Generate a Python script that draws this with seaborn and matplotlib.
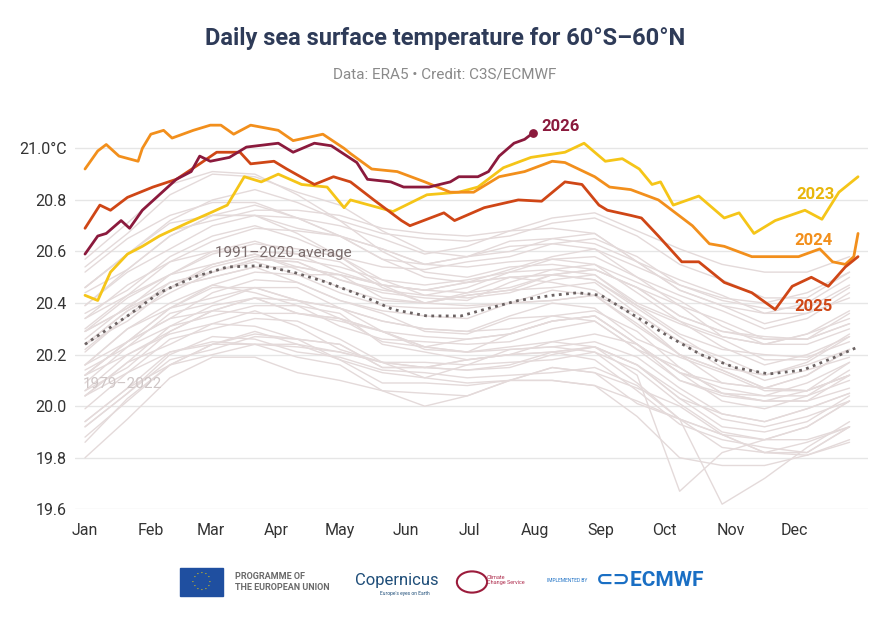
import matplotlib
matplotlib.use("Agg")
import matplotlib.pyplot as plt
import matplotlib.patches as mpatches
import numpy as np
import pandas as pd
import seaborn as sns

# ---- data ----
month_days = [0, 31, 59, 90, 120, 151, 181, 212, 243, 273, 304, 334]
month_names = ["Jan", "Feb", "Mar", "Apr", "May", "Jun",
               "Jul", "Aug", "Sep", "Oct", "Nov", "Dec"]

bg_days = [0, 20, 40, 60, 80, 100, 120, 140, 160, 180,
           200, 220, 240, 260, 280, 300, 320, 340, 360]
bg_years = list(range(1979, 2023))
bg_sst = [
    [19.94, 20.07, 20.21, 20.25, 20.24, 20.23, 20.21, 20.17, 20.11, 20.16, 20.22, 20.23, 20.21, 20.09, 19.95, 19.89, 19.87, 19.87, 19.92],
    [20.04, 20.17, 20.24, 20.32, 20.37, 20.31, 20.22, 20.17, 20.17, 20.16, 20.17, 20.18, 20.21, 20.14, 20.01, 19.90, 19.87, 19.92, 20.02],
    [19.92, 20.05, 20.20, 20.27, 20.26, 20.21, 20.19, 20.14, 20.13, 20.11, 20.12, 20.13, 20.15, 20.08, 19.95, 19.62, 19.72, 19.84, 19.94],
    [19.86, 20.03, 20.16, 20.24, 20.28, 20.26, 20.24, 20.15, 20.15, 20.18, 20.20, 20.25, 20.28, 20.24, 20.10, 20.05, 20.04, 20.09, 20.17],
    [20.16, 20.30, 20.40, 20.47, 20.44, 20.39, 20.36, 20.24, 20.21, 20.18, 20.20, 20.21, 20.18, 20.06, 19.93, 19.87, 19.84, 19.82, 19.92],
    [19.94, 20.07, 20.16, 20.20, 20.24, 20.24, 20.18, 20.09, 20.09, 20.08, 20.10, 20.10, 20.08, 19.96, 19.80, 19.77, 19.77, 19.81, 19.87],
    [19.80, 19.95, 20.11, 20.19, 20.19, 20.13, 20.10, 20.06, 20.05, 20.04, 20.10, 20.15, 20.13, 20.01, 19.95, 19.89, 19.82, 19.81, 19.86],
    [19.88, 20.02, 20.16, 20.24, 20.29, 20.24, 20.21, 20.17, 20.15, 20.14, 20.16, 20.21, 20.23, 20.16, 20.03, 19.97, 19.94, 19.99, 20.05],
    [20.09, 20.23, 20.36, 20.40, 20.46, 20.41, 20.38, 20.33, 20.30, 20.29, 20.30, 20.35, 20.37, 20.29, 20.15, 20.05, 20.02, 20.06, 20.12],
    [20.12, 20.20, 20.28, 20.32, 20.31, 20.26, 20.18, 20.13, 20.11, 20.09, 20.10, 20.15, 20.13, 20.07, 20.00, 19.89, 19.82, 19.82, 19.92],
    [19.92, 20.05, 20.18, 20.22, 20.27, 20.26, 20.24, 20.15, 20.15, 20.14, 20.15, 20.20, 20.23, 20.12, 19.67, 19.82, 19.87, 19.92, 20.02],
    [20.04, 20.17, 20.31, 20.35, 20.39, 20.39, 20.31, 20.26, 20.25, 20.24, 20.25, 20.30, 20.33, 20.22, 20.10, 20.04, 20.02, 20.02, 20.07],
    [20.12, 20.25, 20.34, 20.37, 20.42, 20.41, 20.38, 20.29, 20.23, 20.21, 20.23, 20.25, 20.23, 20.16, 20.03, 19.92, 19.90, 19.94, 20.04],
    [20.04, 20.13, 20.21, 20.24, 20.24, 20.19, 20.16, 20.06, 20.00, 20.04, 20.10, 20.10, 20.08, 20.02, 19.95, 19.84, 19.82, 19.86, 19.92],
    [19.99, 20.13, 20.26, 20.30, 20.34, 20.33, 20.26, 20.17, 20.15, 20.18, 20.20, 20.21, 20.23, 20.16, 20.05, 19.95, 19.92, 19.96, 20.02],
    [20.06, 20.20, 20.29, 20.37, 20.42, 20.36, 20.33, 20.29, 20.23, 20.21, 20.28, 20.33, 20.35, 20.24, 20.13, 20.09, 20.07, 20.06, 20.12],
    [20.16, 20.25, 20.38, 20.46, 20.46, 20.41, 20.34, 20.29, 20.22, 20.21, 20.22, 20.23, 20.25, 20.19, 20.07, 19.97, 19.94, 19.99, 20.05],
    [20.06, 20.15, 20.29, 20.37, 20.36, 20.36, 20.34, 20.25, 20.23, 20.26, 20.28, 20.33, 20.35, 20.24, 20.13, 20.07, 20.04, 20.04, 20.14],
    [20.16, 20.30, 20.38, 20.47, 20.52, 20.51, 20.51, 20.47, 20.45, 20.48, 20.53, 20.58, 20.61, 20.54, 20.47, 20.42, 20.40, 20.44, 20.52],
    [20.52, 20.65, 20.74, 20.79, 20.79, 20.73, 20.66, 20.57, 20.50, 20.48, 20.50, 20.48, 20.45, 20.34, 20.20, 20.09, 20.07, 20.06, 20.12],
    [20.14, 20.23, 20.31, 20.39, 20.42, 20.36, 20.34, 20.29, 20.27, 20.26, 20.28, 20.33, 20.35, 20.24, 20.13, 20.02, 19.99, 20.04, 20.10],
    [20.12, 20.25, 20.38, 20.42, 20.46, 20.46, 20.38, 20.33, 20.30, 20.29, 20.35, 20.40, 20.38, 20.26, 20.19, 20.13, 20.06, 20.06, 20.17],
    [20.21, 20.35, 20.44, 20.52, 20.56, 20.51, 20.44, 20.39, 20.38, 20.38, 20.40, 20.41, 20.43, 20.36, 20.25, 20.15, 20.12, 20.16, 20.22],
    [20.24, 20.37, 20.46, 20.55, 20.59, 20.54, 20.51, 20.47, 20.45, 20.44, 20.46, 20.51, 20.53, 20.46, 20.35, 20.29, 20.27, 20.26, 20.32],
    [20.34, 20.43, 20.51, 20.55, 20.59, 20.53, 20.46, 20.41, 20.40, 20.43, 20.45, 20.51, 20.49, 20.39, 20.28, 20.22, 20.20, 20.19, 20.25],
    [20.26, 20.39, 20.48, 20.52, 20.57, 20.56, 20.49, 20.45, 20.43, 20.42, 20.44, 20.49, 20.51, 20.39, 20.32, 20.26, 20.18, 20.18, 20.28],
    [20.30, 20.43, 20.56, 20.60, 20.60, 20.59, 20.56, 20.46, 20.40, 20.44, 20.50, 20.51, 20.49, 20.38, 20.27, 20.17, 20.10, 20.14, 20.19],
    [20.22, 20.35, 20.48, 20.52, 20.57, 20.56, 20.49, 20.44, 20.42, 20.41, 20.48, 20.53, 20.55, 20.44, 20.33, 20.27, 20.24, 20.24, 20.30],
    [20.29, 20.38, 20.46, 20.50, 20.54, 20.48, 20.41, 20.36, 20.29, 20.28, 20.34, 20.35, 20.33, 20.22, 20.15, 20.05, 20.02, 20.02, 20.12],
    [20.12, 20.25, 20.34, 20.44, 20.49, 20.48, 20.41, 20.37, 20.35, 20.34, 20.40, 20.45, 20.43, 20.32, 20.20, 20.14, 20.07, 20.12, 20.22],
    [20.24, 20.33, 20.46, 20.54, 20.58, 20.57, 20.54, 20.49, 20.47, 20.49, 20.52, 20.57, 20.58, 20.50, 20.43, 20.37, 20.30, 20.34, 20.44],
    [20.46, 20.59, 20.71, 20.74, 20.74, 20.67, 20.58, 20.47, 20.40, 20.39, 20.40, 20.41, 20.43, 20.31, 20.20, 20.14, 20.07, 20.12, 20.22],
    [20.24, 20.37, 20.46, 20.50, 20.54, 20.54, 20.51, 20.42, 20.40, 20.43, 20.45, 20.46, 20.48, 20.36, 20.25, 20.19, 20.12, 20.17, 20.27],
    [20.29, 20.38, 20.51, 20.59, 20.63, 20.61, 20.58, 20.49, 20.43, 20.46, 20.52, 20.53, 20.51, 20.40, 20.33, 20.23, 20.16, 20.20, 20.27],
    [20.29, 20.42, 20.51, 20.60, 20.64, 20.59, 20.52, 20.47, 20.45, 20.48, 20.50, 20.51, 20.53, 20.46, 20.35, 20.29, 20.26, 20.26, 20.32],
    [20.34, 20.47, 20.56, 20.64, 20.69, 20.68, 20.66, 20.61, 20.55, 20.58, 20.60, 20.65, 20.67, 20.56, 20.45, 20.39, 20.32, 20.36, 20.46],
    [20.46, 20.59, 20.68, 20.72, 20.76, 20.76, 20.74, 20.69, 20.67, 20.66, 20.68, 20.73, 20.75, 20.68, 20.61, 20.55, 20.52, 20.52, 20.58],
    [20.57, 20.71, 20.86, 20.91, 20.90, 20.82, 20.72, 20.60, 20.52, 20.50, 20.54, 20.55, 20.53, 20.46, 20.39, 20.27, 20.24, 20.28, 20.34],
    [20.39, 20.53, 20.66, 20.74, 20.78, 20.73, 20.66, 20.57, 20.55, 20.54, 20.56, 20.57, 20.55, 20.48, 20.41, 20.31, 20.24, 20.28, 20.37],
    [20.36, 20.45, 20.58, 20.66, 20.70, 20.65, 20.58, 20.54, 20.53, 20.56, 20.58, 20.63, 20.65, 20.58, 20.47, 20.41, 20.38, 20.38, 20.47],
    [20.46, 20.59, 20.72, 20.80, 20.84, 20.79, 20.72, 20.67, 20.65, 20.64, 20.66, 20.71, 20.73, 20.66, 20.55, 20.49, 20.42, 20.42, 20.52],
    [20.54, 20.67, 20.82, 20.90, 20.89, 20.83, 20.78, 20.68, 20.60, 20.58, 20.62, 20.63, 20.61, 20.50, 20.39, 20.33, 20.26, 20.26, 20.36],
    [20.39, 20.52, 20.61, 20.70, 20.74, 20.69, 20.66, 20.61, 20.55, 20.58, 20.64, 20.65, 20.63, 20.56, 20.45, 20.39, 20.36, 20.36, 20.42],
    [20.44, 20.53, 20.66, 20.74, 20.74, 20.73, 20.70, 20.65, 20.59, 20.62, 20.68, 20.69, 20.67, 20.56, 20.49, 20.43, 20.36, 20.40, 20.50],
]

avg_days = [0, 20, 35, 51, 67, 83, 98, 114, 130, 145, 161, 177, 188,
            204, 220, 232, 243, 259, 275, 290, 306, 322, 338, 353, 364]
avg_sst = [20.24, 20.35, 20.44, 20.50, 20.54, 20.545, 20.52, 20.48, 20.43,
           20.375, 20.35, 20.35, 20.375, 20.41, 20.43, 20.44, 20.43, 20.35,
           20.27, 20.20, 20.15, 20.125, 20.14, 20.19, 20.23]

days_2023 = [0, 6, 12, 20, 27, 35, 48, 59, 67, 75, 83, 91, 102, 114, 122, 125,
             145, 161, 176, 185, 197, 210, 226, 235, 245, 253, 261, 267, 271,
             277, 289, 301, 308, 315, 325, 339, 347, 355, 364]
sst_2023 = [20.43, 20.41, 20.52, 20.59, 20.62, 20.66, 20.71, 20.75, 20.78, 20.89,
            20.87, 20.90, 20.86, 20.85, 20.77, 20.80, 20.755, 20.82, 20.83, 20.85,
            20.925, 20.965, 20.985, 21.02, 20.95, 20.96, 20.92, 20.86, 20.87, 20.78,
            20.815, 20.73, 20.75, 20.67, 20.72, 20.76, 20.725, 20.83, 20.89]

days_2024 = [0, 6, 10, 16, 25, 27, 31, 37, 41, 51, 59, 64, 70, 78, 91, 98, 112,
             122, 125, 135, 147, 160, 172, 183, 195, 207, 220, 226, 240, 247,
             257, 270, 278, 286, 294, 301, 314, 322, 336, 346, 352, 358, 362, 364]
sst_2024 = [20.92, 20.99, 21.015, 20.97, 20.95, 21.0, 21.055, 21.07, 21.04, 21.07,
            21.09, 21.09, 21.055, 21.09, 21.07, 21.03, 21.055, 21.0, 20.98, 20.92,
            20.91, 20.87, 20.83, 20.83, 20.89, 20.91, 20.95, 20.945, 20.89, 20.85,
            20.84, 20.80, 20.75, 20.70, 20.63, 20.62, 20.58, 20.58, 20.58, 20.61,
            20.56, 20.55, 20.58, 20.67]

days_2025 = [0, 7, 12, 20, 32, 43, 54, 62, 73, 78, 89, 95, 108, 117, 125, 136,
             149, 153, 169, 174, 188, 204, 215, 226, 234, 242, 246, 257, 262,
             270, 281, 289, 301, 314, 325, 333, 342, 350, 358, 364]
sst_2025 = [20.69, 20.78, 20.76, 20.81, 20.85, 20.88, 20.94, 20.985, 20.985, 20.94,
            20.95, 20.92, 20.86, 20.89, 20.87, 20.80, 20.72, 20.70, 20.75, 20.72,
            20.77, 20.80, 20.795, 20.87, 20.86, 20.78, 20.76, 20.74, 20.73, 20.66,
            20.56, 20.56, 20.48, 20.44, 20.375, 20.465, 20.50, 20.465, 20.54, 20.58]

days_2026 = [0, 6, 10, 17, 21, 27, 35, 43, 50, 54, 59, 68, 76, 91, 98, 108, 116,
             128, 133, 144, 150, 162, 172, 176, 185, 190, 195, 202, 207, 211]
sst_2026 = [20.59, 20.66, 20.67, 20.72, 20.69, 20.76, 20.82, 20.88, 20.91, 20.97,
            20.95, 20.965, 21.005, 21.02, 20.985, 21.02, 21.01, 20.945, 20.88, 20.87,
            20.85, 20.85, 20.87, 20.89, 20.89, 20.91, 20.97, 21.02, 21.035, 21.06]

y_ticks = [19.6, 19.8, 20.0, 20.2, 20.4, 20.6, 20.8, 21.0]
y_labels = ["19.6", "19.8", "20.0", "20.2", "20.4", "20.6", "20.8", "21.0°C"]

# ---- style ----
sns.set_theme(style="white")
plt.rcParams["font.family"] = ["Roboto", "DejaVu Sans"]

c_bg = "#e4dada"
c_2023 = "#f5c518"
c_2024 = "#f28f1c"
c_2025 = "#cf4616"
c_2026 = "#8b1a3d"

fig = plt.figure(figsize=(8.9, 6.24), dpi=100)
ax = fig.add_axes([0.0843, 0.1838, 0.891, 0.628])

bg_df = pd.DataFrame({
    "year": np.repeat(bg_years, len(bg_days)),
    "day": bg_days * len(bg_years),
    "sst": np.concatenate(bg_sst),
})
sns.lineplot(data=bg_df, x="day", y="sst", units="year", estimator=None,
             color=c_bg, linewidth=1, ax=ax)

sns.lineplot(x=avg_days, y=avg_sst, color="#6b6262", linewidth=2,
             linestyle=(0, (1, 1.6)), ax=ax)

sns.lineplot(x=days_2023, y=sst_2023, color=c_2023, linewidth=2, ax=ax)
sns.lineplot(x=days_2024, y=sst_2024, color=c_2024, linewidth=2, ax=ax)
sns.lineplot(x=days_2025, y=sst_2025, color=c_2025, linewidth=2, ax=ax)
sns.lineplot(x=days_2026, y=sst_2026, color=c_2026, linewidth=2, ax=ax)
ax.scatter([days_2026[-1]], [sst_2026[-1]], s=28, color=c_2026, zorder=5)

ax.set_xlim(-4.7, 368.7)
ax.set_ylim(19.6, 21.12)
ax.set_xticks(month_days)
ax.set_xticklabels(month_names)
ax.set_yticks(y_ticks)
ax.set_yticklabels(y_labels)
ax.tick_params(axis="both", length=0, labelsize=11.5, colors="#333333")
ax.tick_params(axis="x", pad=10)
ax.tick_params(axis="y", pad=6)
ax.yaxis.grid(True, color="#e6e6e6", linewidth=1)
ax.set_axisbelow(True)
ax.set_xlabel("")
ax.set_ylabel("")
for s in ax.spines.values():
    s.set_visible(False)

# labels on the lines
ax.text(215, 21.085, "2026", color=c_2026, fontsize=12, fontweight="bold", va="center")
ax.text(335, 20.82, "2023", color="#e8b60c", fontsize=12, fontweight="bold", va="center")
ax.text(334, 20.643, "2024", color=c_2024, fontsize=12, fontweight="bold", va="center")
ax.text(334, 20.387, "2025", color=c_2025, fontsize=12, fontweight="bold", va="center")
ax.text(61, 20.595, "1991–2020 average", color="#7a6c6c", fontsize=11, va="center")
ax.text(-1, 20.085, "1979–2022", color="#cfc6c6", fontsize=11, va="center")

# title block
fig.text(0.5, 0.939, "Daily sea surface temperature for 60°S–60°N",
         ha="center", va="center", fontsize=17, fontweight="bold", color="#2e3b58")
fig.text(0.5, 0.88, "Data: ERA5 • Credit: C3S/ECMWF", ha="center", va="center",
         fontsize=11, color="#8a8a8a")

# logo strip (approximated with text and shapes)
flag = mpatches.Rectangle((180 / 890, 1 - 596 / 624), 43 / 890, 28 / 624,
                          transform=fig.transFigure, color="#1f4fa0")
fig.patches.append(flag)
ang = np.linspace(0, 2 * np.pi, 13)[:-1]
fig.text(201.5 / 890, 1 - 582 / 624, "", transform=fig.transFigure)
for a in ang:
    fig.text((201.5 + 8.5 * np.cos(a)) / 890, (1 - 582 / 624) + 8.5 * np.sin(a) / 624,
             "•", color="#f5d200", fontsize=4, ha="center", va="center")
fig.text(235 / 890, 1 - 582 / 624, "PROGRAMME OF\nTHE EUROPEAN UNION", fontsize=6.5,
         fontweight="bold", color="#6a6a6a", va="center", linespacing=1.2)
fig.text(355 / 890, 1 - 580 / 624, "Copernicus", fontsize=12, color="#1f4e79",
         va="center")
fig.text(380 / 890, 1 - 593 / 624, "Europe's eyes on Earth", fontsize=3.5,
         color="#1f4e79", va="center")
circ = mpatches.Circle((472 / 890, 1 - 582 / 624), 0.017, transform=fig.transFigure,
                       fill=False, edgecolor="#9b1b3b", linewidth=1.5)
fig.patches.append(circ)
fig.text(487 / 890, 1 - 580 / 624, "Climate\nChange Service", fontsize=4,
         color="#b03050", va="center")
fig.text(547 / 890, 1 - 581 / 624, "IMPLEMENTED BY", fontsize=3.5, color="#1a6fc4",
         va="center")
fig.text(596 / 890, 1 - 581 / 624, "⊂⊃ECMWF", fontsize=15, fontweight="bold",
         color="#1a6fc4", va="center")

fig.savefig("out.png", dpi=100, facecolor="white")
